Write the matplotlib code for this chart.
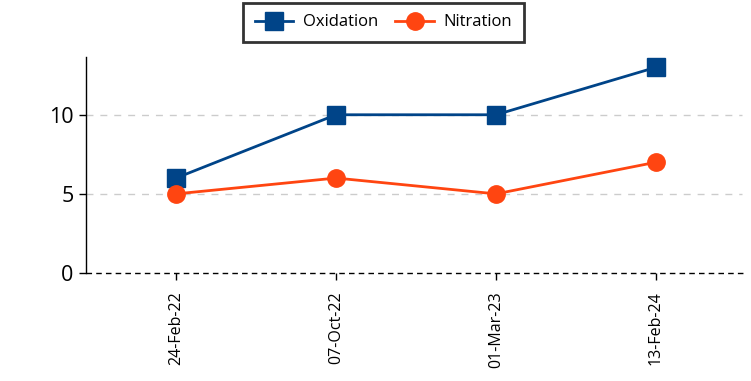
import matplotlib
matplotlib.use("Agg")
import matplotlib.pyplot as plt

dates = ["24-Feb-22", "07-Oct-22", "01-Mar-23", "13-Feb-24"]
oxidation = [6, 10, 10, 13]
nitration = [5, 6, 5, 7]
y_ticks = [0, 5, 10]

plt.rcParams["font.family"] = ["Open Sans", "DejaVu Sans"]

fig = plt.figure(figsize=(7.51, 3.81), dpi=100)
ax = fig.add_axes([86 / 751, 1 - 273 / 381, (745 - 86) / 751, (273 - 57) / 381])

x = list(range(len(dates)))
ax.plot(x, oxidation, color="#004488", lw=2, marker="s", ms=12.5, label="Oxidation", zorder=3)
ax.plot(x, nitration, color="#FF4511", lw=2, marker="o", ms=12.5, label="Nitration", zorder=3)

ax.set_xlim(-0.5625, 3.556)
ax.set_ylim(0, 13.65)
ax.set_yticks(y_ticks)
ax.set_yticklabels([str(v) for v in y_ticks], fontsize=15.5)
ax.set_xticks(x)
ax.set_xticklabels(dates, rotation=90, fontsize=11.5)

for v in y_ticks[1:]:
    ax.axhline(v, color="#cccccc", lw=1, ls=(0, (5, 5)), xmax=0.995, zorder=1)
ax.axhline(0, color="black", lw=1, ls=(0, (4, 3)), zorder=2, clip_on=False)

for side in ["top", "right", "bottom"]:
    ax.spines[side].set_visible(False)
ax.spines["left"].set_linewidth(1)
ax.tick_params(axis="y", length=5, width=1, pad=4)
ax.tick_params(axis="x", length=5, width=1, pad=8)

leg = fig.legend(loc="upper center", bbox_to_anchor=(0.511, 0.997), ncol=2, fontsize=12,
                 frameon=True, fancybox=False, edgecolor="black", handlelength=2.3,
                 handletextpad=0.6, columnspacing=1.0, borderpad=0.7, borderaxespad=0.1)
leg.get_frame().set_linewidth(2)

fig.savefig("out.png", dpi=100)
